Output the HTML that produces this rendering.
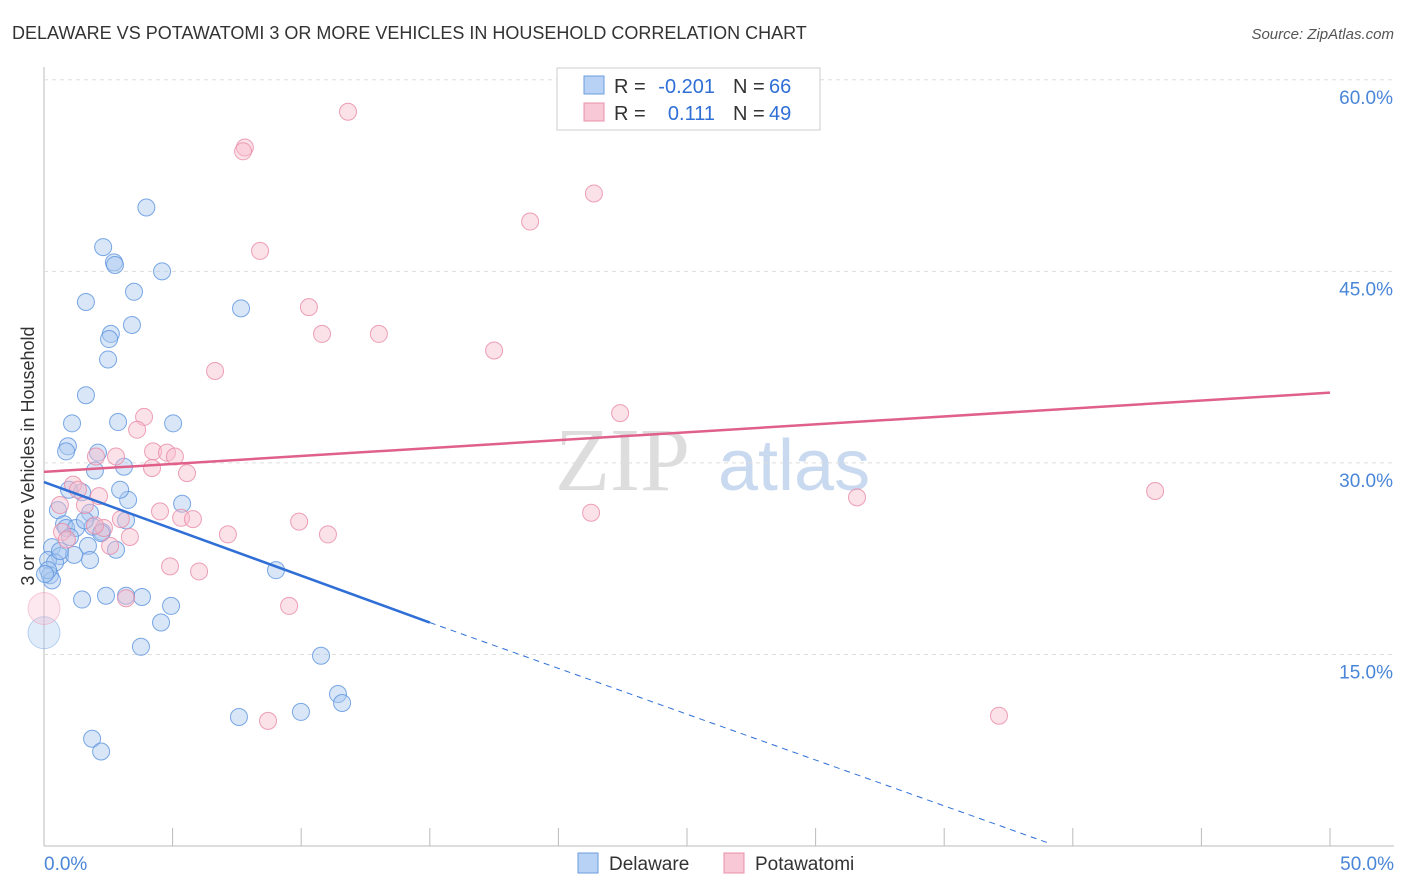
<!DOCTYPE html>
<html><head><meta charset="utf-8"><style>
body{margin:0;background:#fff;font-family:"Liberation Sans",sans-serif}
svg{display:block}
</style></head><body>
<svg width="1406" height="892" id="c">
<text x="12" y="39" font-size="18" fill="#333">DELAWARE VS POTAWATOMI 3 OR MORE VEHICLES IN HOUSEHOLD CORRELATION CHART</text>
<text x="1394" y="39" font-size="15" fill="#555" font-style="italic" text-anchor="end">Source: ZipAtlas.com</text>
<text x="34" y="456" font-size="18" fill="#333" text-anchor="middle" transform="rotate(-90 34 456)">3 or more Vehicles in Household</text>
<text x="555" y="490" font-size="90" fill="#ddd" font-family="Liberation Serif">ZIP</text>
<text x="718" y="490" font-size="72" fill="#c9d9ef">atlas</text>
<g id="grid"></g><g id="pts"></g><g id="lines"></g>
<g font-size="20">
<rect x="557" y="68" width="263" height="62" fill="#fff" stroke="#ccc"/>
<rect x="584" y="76" width="20" height="18" fill="#b8d2f5" stroke="#6b9ee0"/>
<rect x="584" y="103" width="20" height="18" fill="#f8c8d6" stroke="#e890a8"/>
<text x="614" y="93" fill="#333">R =</text>
<text x="715" y="93" fill="#2f6fd6" text-anchor="end">-0.201</text>
<text x="733" y="93" fill="#333">N =</text>
<text x="769" y="93" fill="#2f6fd6">66</text>
<text x="614" y="120" fill="#333">R =</text>
<text x="715" y="120" fill="#2f6fd6" text-anchor="end">0.111</text>
<text x="733" y="120" fill="#333">N =</text>
<text x="769" y="120" fill="#2f6fd6">49</text>
</g>
<g>
<rect x="578" y="853" width="20" height="20" fill="#b8d2f5" stroke="#6b9ee0"/>
<text x="609" y="870" font-size="19" fill="#333">Delaware</text>
<rect x="724" y="853" width="20" height="20" fill="#f8c8d6" stroke="#e890a8"/>
<text x="755" y="870" font-size="19" fill="#333">Potawatomi</text>
</g>
<text x="44" y="870" font-size="19" fill="#4a86d8">0.0%</text>
<text x="1394" y="870" font-size="19" fill="#4a86d8" text-anchor="end">50.0%</text>
</svg>
<script>
const yTicks=[15,30,45,60];
const xTickVals=[0,5,10,15,20,25,30,35,40,45,50];
const delX=[3.98,2.3,2.72,2.76,4.59,3.5,1.63,7.66,3.42,2.6,2.53,2.49,1.63,1.09,2.88,5.02,0.93,0.86,2.1,3.11,0.97,1.48,3.27,5.37,0.54,1.79,3.19,0.78,0.86,1.24,1.9,2.26,2.22,1.01,0.31,1.71,2.8,0.62,0.16,1.17,1.79,0.43,0.23,0.31,9.02,1.48,2.41,3.81,3.19,4.94,4.55,3.77,0.0,10.77,11.43,11.59,7.58,9.99,1.87,2.22,0.16,0.04,0.62,1.59,2.96,1.98];
const delY=[50.0,46.9,45.7,45.5,45.0,43.4,42.6,42.1,40.8,40.1,39.7,38.1,35.3,33.1,33.2,33.1,31.3,30.9,30.8,29.7,27.9,27.7,27.1,26.8,26.3,26.1,25.5,25.2,24.9,24.9,25.0,24.6,24.5,24.2,23.4,23.5,23.2,22.7,22.4,22.8,22.4,22.2,21.2,20.8,21.6,19.3,19.6,19.5,19.6,18.8,17.5,15.6,16.7,14.9,11.9,11.2,10.1,10.5,8.4,7.4,21.6,21.3,23.1,25.5,27.9,29.4];
const potX=[11.82,7.81,7.74,8.4,10.3,10.81,13.02,17.5,18.9,21.38,6.65,3.89,3.62,22.4,4.24,4.78,5.09,2.02,2.8,4.2,5.56,1.13,1.32,2.14,4.51,2.99,5.33,5.79,9.92,21.27,31.61,43.2,2.33,0.7,3.34,7.15,11.04,0.89,2.57,4.9,6.03,0.0,3.19,9.53,8.71,37.13,0.62,1.59,1.98];
const potY=[57.5,54.7,54.4,46.6,42.2,40.1,40.1,38.8,48.9,51.1,37.2,33.6,32.6,33.9,30.9,30.8,30.5,30.5,30.5,29.6,29.2,28.3,27.9,27.4,26.2,25.6,25.7,25.6,25.4,26.1,27.3,27.8,24.9,24.6,24.2,24.4,24.4,24.0,23.5,21.9,21.5,18.6,19.4,18.8,9.8,10.2,26.7,26.7,25.1];
const X=v=>44+v*25.72, Y=v=>846-v*12.77, NS="http://www.w3.org/2000/svg";
function el(t,a,p){const e=document.createElementNS(NS,t);for(const k in a)e.setAttribute(k,a[k]);document.getElementById(p).appendChild(e);return e;}
let e=el('line',{x1:44,y1:67,x2:44,y2:846,stroke:'#bbb'},'grid');


e=el('line',{x1:44,y1:846,x2:1394,y2:846,stroke:'#bbb'},'grid');


xTickVals.forEach(v=>{const t=el('line',{x1:X(v),y1:828,x2:X(v),y2:846,stroke:'#bbb'},'grid');

});
yTicks.forEach(v=>{const g=el('line',{x1:44,y1:Y(v),x2:1394,y2:Y(v),stroke:'#ddd','stroke-dasharray':'4,4'},'grid');


const t=el('text',{x:1393,y:Y(v)+24,'font-size':19,fill:'#4a86d8','text-anchor':'end'},'grid');t.textContent=v.toFixed(1)+'%';

});
function pts(xs,ys,f,s,name){xs.forEach((x,i)=>{const big=(x===0);const c=el('circle',{cx:X(x),cy:Y(ys[i]),r:big?16:8.5,fill:f,'fill-opacity':big?0.35:0.45,stroke:s,'stroke-opacity':big?0.4:0.8,'stroke-width':1},'pts');

});}
pts(delX,delY,'#a9c8f0','#5b93df','delaware-point');
pts(potX,potY,'#f6bccd','#e88aa6','potawatomi-point');
let l=el('line',{x1:X(0),y1:Y(28.5),x2:X(15),y2:Y(17.5),stroke:'#2f6fd6','stroke-width':2.5},'lines');


l=el('line',{x1:X(15),y1:Y(17.5),x2:X(39.1),y2:Y(0.2),stroke:'#2f6fd6','stroke-width':1,'stroke-dasharray':'6,5'},'lines');


l=el('line',{x1:X(0),y1:Y(29.3),x2:X(50),y2:Y(35.5),stroke:'#e0608a','stroke-width':2.5},'lines');


</script>
</body></html>
